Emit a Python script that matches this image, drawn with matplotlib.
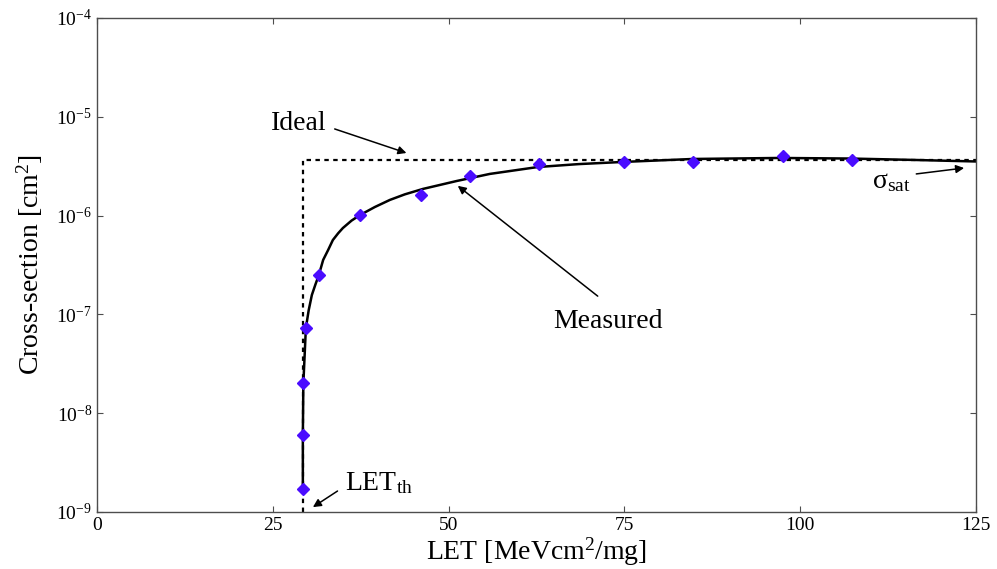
import matplotlib.pyplot as plt
from matplotlib.ticker import NullLocator

plt.rcParams['font.family'] = ['Liberation Serif', 'DejaVu Serif']
plt.rcParams['mathtext.fontset'] = 'custom'
plt.rcParams['mathtext.rm'] = 'Liberation Serif'
plt.rcParams['mathtext.it'] = 'Liberation Serif:italic'
plt.rcParams['mathtext.bf'] = 'Liberation Serif:bold'
plt.rcParams['axes.unicode_minus'] = False

# measured cross-sections
let_meas = [29.3, 29.3, 29.3, 29.7, 31.6, 37.4, 46.1, 53.1, 62.9, 75.0, 84.8, 97.5, 107.3]
xs_meas = [1.7e-9, 6.0e-9, 2.0e-8, 7.3e-8, 2.5e-7, 1.02e-6, 1.62e-6, 2.5e-6,
           3.3e-6, 3.5e-6, 3.46e-6, 4.0e-6, 3.68e-6]

# fitted curve
let_fit = [29.27, 29.27, 29.34, 29.70, 30.10, 30.55, 31.05, 31.55, 32.16, 32.87,
           33.54, 34.29, 34.96, 36.19, 37.37, 39.50, 41.64, 43.77, 46.33, 51.16,
           55.85, 62.67, 68.5, 74.75, 84.70, 97.06, 107.0, 116.0, 124.9]
xs_fit = [1.67e-9, 6.0e-9, 1.98e-8, 7.28e-8, 1.10e-7, 1.57e-7, 2.00e-7, 2.51e-7,
          3.56e-7, 4.49e-7, 5.66e-7, 6.62e-7, 7.48e-7, 8.89e-7, 1.01e-6, 1.22e-6,
          1.44e-6, 1.64e-6, 1.86e-6, 2.24e-6, 2.64e-6, 3.10e-6, 3.32e-6, 3.49e-6,
          3.74e-6, 3.83e-6, 3.78e-6, 3.66e-6, 3.53e-6]

# ideal step response
let_th = 29.35
xs_sat = 3.66e-6
let_ideal = [let_th, let_th, 125]
xs_ideal = [1e-9, xs_sat, xs_sat]

fig = plt.figure(figsize=(9.97, 5.69), dpi=100)
ax = fig.add_axes([0.0973, 0.1002, 0.8817, 0.8682])

ax.plot(let_ideal, xs_ideal, color='k', lw=1.6, dashes=(2, 2))
ax.plot(let_fit, xs_fit, color='k', lw=1.8, solid_joinstyle='round')
ax.plot(let_meas, xs_meas, 'D', color='#4a0cff', ms=6.6, mec='#4a0cff')

ax.set_yscale('log')
ax.set_xlim(0, 125)
ax.set_ylim(1e-9, 1e-4)
ax.set_xticks([0, 25, 50, 75, 100, 125])
ax.yaxis.set_minor_locator(NullLocator())
ax.tick_params(direction='in', top=True, right=True, length=4, width=0.8,
               labelsize=14, color='0.3')
for s in ax.spines.values():
    s.set_color('0.3')
    s.set_linewidth(1.0)

ax.set_xlabel('LET [MeVcm$^2$/mg]', fontsize=20, labelpad=1)
ax.set_ylabel('Cross-section [cm$^2$]', fontsize=20, labelpad=8)

arrow = dict(arrowstyle='-|>', lw=1.1, color='k', mutation_scale=12, shrinkA=0, shrinkB=0)
ax.annotate('', xy=(44.0, 4.3e-6), xytext=(33.8, 7.53e-6), arrowprops=arrow)
ax.text(28.7, 8.65e-6, 'Ideal', fontsize=20, ha='center', va='center')

ax.annotate('', xy=(51.3, 2.0e-6), xytext=(71.2, 1.53e-7), arrowprops=arrow)
ax.text(72.6, 8.4e-8, 'Measured', fontsize=20, ha='center', va='center')

ax.annotate('', xy=(123.3, 3.03e-6), xytext=(116.5, 2.64e-6), arrowprops=arrow)
ax.text(113.0, 2.19e-6, 'σ$_{\\mathrm{sat}}$', fontsize=20, ha='center', va='center')

ax.annotate('', xy=(30.7, 1.12e-9), xytext=(34.2, 1.63e-9), arrowprops=arrow)
ax.text(35.2, 1.67e-9, r'LET$_{\mathrm{th}}$', fontsize=20, ha='left', va='baseline')

fig.savefig('out.png', dpi=100)
